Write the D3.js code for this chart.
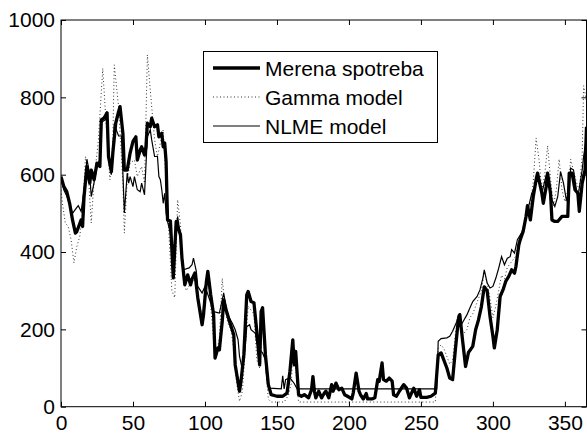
<!DOCTYPE html>
<html><head><meta charset="utf-8">
<script src="https://cdn.jsdelivr.net/npm/d3@7"></script>
<style>html,body{margin:0;padding:0;background:#fff;}svg{display:block;font-family:"Liberation Sans",Arial,sans-serif;}</style>
</head><body><svg id="c" width="587" height="435"></svg>
<script>
const xTicks = [0,50,100,150,200,250,300,350];
const yTicks = [0,200,400,600,800,1000];
const seriesNames = ["Merena spotreba","Gamma model","NLME model"];

const measuredDays = [0,2,4,6,8,10,11,14,15,16,18,20,21,23,25,27,28,30,32,33,35,36,38,40,41,43,44,46,48,50,52,53,55,56,58,59,60,62,63,65,67,68,70,71,72,73,74,76,78,80,83,84,86,88,90,91,93,95,98,99,101,102,104,106,107,109,110,112,113,115,117,120,121,124,125,127,129,130,132,134,136,138,139,140,142,144,146,150,154,157,159,161,162,163,165,167,169,172,174,175,176,177,179,181,183,184,186,188,189,191,193,195,197,199,202,203,205,207,208,210,212,213,216,218,220,221,223,224,226,228,230,231,233,235,238,240,242,245,247,249,250,254,257,260,262,264,266,268,270,272,274,276,277,279,281,283,286,288,290,292,294,296,298,300,301,303,305,307,309,311,313,315,316,318,319,321,323,324,326,328,330,331,333,334,335,337,338,340,341,343,345,348,350,352,353,355,357,359,360,362,364,365];
const measuredValues = [595,569,556,526,483,449,453,483,466,543,621,578,612,587,630,621,742,747,760,647,608,656,733,763,776,707,612,612,656,686,698,638,664,672,651,672,733,724,746,724,729,698,707,672,682,634,483,480,333,479,444,385,315,341,315,330,346,282,212,238,324,350,289,238,126,152,147,221,276,246,221,186,108,40,65,134,289,298,272,269,195,108,246,256,134,57,31,27,27,35,91,173,108,143,31,27,31,23,44,78,40,23,40,23,36,40,23,57,40,61,44,48,31,27,20,36,87,40,31,20,34,20,20,23,70,66,113,70,66,74,66,31,27,40,57,48,23,48,27,44,24,24,27,35,134,139,120,100,74,70,150,225,238,169,104,140,156,199,225,259,310,300,233,182,152,199,285,302,325,337,354,345,363,419,432,453,492,520,483,543,587,604,569,552,526,569,604,552,483,479,479,492,492,492,604,604,561,552,505,578,612,724];

const gammaDays = [0,1,3,5,7,9,11,13,15,17,19,21,23,26,29,32,34,36,37,40,43,44,46,48,51,53,56,58,60,62,65,67,71,72,74,77,79,81,83,85,87,90,93,95,98,100,102,104,106,108,110,112,114,116,118,120,122,124,126,128,130,132,134,136,138,140,142,144,146,155,158,160,161,163,165,260,262,264,266,268,270,272,274,276,278,280,282,284,286,288,290,292,294,296,298,300,302,304,306,308,310,312,314,316,318,320,322,324,326,328,330,332,334,336,338,340,342,344,346,348,350,352,354,356,358,360,362,363,365];
const gammaValues = [560,526,475,466,432,372,414,440,501,647,600,475,587,690,875,690,587,690,884,776,578,449,587,630,638,595,621,578,910,819,690,647,716,647,518,300,282,535,470,330,300,320,330,290,230,300,340,260,170,140,175,332,250,215,200,150,60,14,40,150,260,250,240,121,100,220,110,20,12,12,30,60,150,100,12,12,150,160,150,130,110,120,190,230,200,190,200,230,240,260,280,300,350,320,280,230,260,300,340,330,360,370,380,390,430,450,480,510,520,580,695,640,560,600,675,590,520,560,640,560,530,560,640,610,580,560,650,830,790];

const nlmeDays = [0,2,4,6,8,10,12,14,16,18,20,21,23,25,27,28,30,32,33,35,37,40,42,43,44,46,47,48,50,51,53,55,56,58,60,62,63,65,67,68,69,70,71,72,73,74,77,78,81,83,85,89,91,92,94,95,98,100,102,104,106,108,110,113,115,117,119,121,123,124,126,128,129,131,132,135,136,138,140,142,143,145,153,154,155,156,159,162,164,261,262,264,268,270,272,275,276,278,280,282,284,286,289,291,293,294,296,298,300,302,304,306,308,310,312,313,315,317,320,322,324,327,329,331,332,334,337,338,341,343,345,347,349,351,353,354,356,358,359,362,363,365];
const nlmeValues = [590,560,545,525,500,510,520,505,560,640,600,543,580,620,640,735,740,745,640,600,730,700,700,604,501,604,578,595,569,595,561,556,578,548,698,716,690,647,647,595,587,561,526,552,500,479,432,380,492,440,354,359,367,384,350,311,294,311,290,268,246,244,242,294,251,229,216,199,173,130,96,156,207,212,199,190,165,147,139,121,70,48,46,80,46,70,75,60,46,46,169,176,178,182,195,221,238,212,225,238,255,272,285,302,332,354,320,307,311,332,358,388,367,384,388,406,397,432,450,470,505,552,569,595,590,552,599,604,535,518,543,608,578,535,552,617,612,561,543,612,647,698];

const W = 587, H = 435;
const m = {left:61, right:586.5, top:20, bottom:406.7};
const x = d3.scaleLinear().domain([0,365]).range([m.left, m.right]);
const y = d3.scaleLinear().domain([0,1000]).range([m.bottom, m.top]);
const svg = d3.select("#c");

svg.append("defs").append("clipPath").attr("id","clip")
  .append("rect").attr("x",m.left).attr("y",m.top).attr("width",m.right-m.left).attr("height",m.bottom-m.top);

const plot = svg.append("g").attr("clip-path","url(#clip)");
const line = d3.line().x(d=>x(d[0])).y(d=>y(d[1]));
const zip = (a,b)=>a.map((d,i)=>[d,b[i]]);

plot.append("path").datum(zip(gammaDays,gammaValues)).attr("d",line)
  .attr("fill","none").attr("stroke","#333").attr("stroke-width",1).attr("stroke-dasharray","1,2.5");
plot.append("path").datum(zip(nlmeDays,nlmeValues)).attr("d",line)
  .attr("fill","none").attr("stroke","#000").attr("stroke-width",1.2);
plot.append("path").datum(zip(measuredDays,measuredValues)).attr("d",line)
  .attr("fill","none").attr("stroke","#000").attr("stroke-width",3.3).attr("stroke-linejoin","round");

// axes
const fs = 21;
const fmt = d3.format("d");
const axB = d3.axisBottom(x).tickValues(xTicks).tickSizeInner(-5).tickSizeOuter(0).tickPadding(8).tickFormat(fmt);
const gB = svg.append("g").attr("transform",`translate(0,${m.bottom})`).call(axB);
const axT = d3.axisTop(x).tickValues(xTicks).tickSizeInner(-5).tickSizeOuter(0).tickFormat("");
const gT = svg.append("g").attr("transform",`translate(0,${m.top})`).call(axT);
const axL = d3.axisLeft(y).tickValues(yTicks).tickSizeInner(-5).tickSizeOuter(0).tickPadding(6).tickFormat(fmt);
const gL = svg.append("g").attr("transform",`translate(${m.left},0)`).call(axL);
const axR = d3.axisRight(y).tickValues(yTicks).tickSizeInner(-5).tickSizeOuter(0).tickFormat("");
const gR = svg.append("g").attr("transform",`translate(${m.right},0)`).call(axR);
[gB,gT,gL,gR].forEach(g=>{
  g.select(".domain").remove();
  g.selectAll("line").attr("stroke","#000").attr("stroke-width",1);
  g.selectAll("text").attr("font-size",fs).attr("font-family","'Liberation Sans',Arial,sans-serif").attr("fill","#000");
});
gB.selectAll("text").attr("dy","0.71em");
svg.append("rect").attr("x",m.left).attr("y",m.top).attr("width",m.right-m.left).attr("height",m.bottom-m.top)
  .attr("fill","none").attr("stroke","#000").attr("stroke-width",1);

// legend
const lg = svg.append("g");
lg.append("rect").attr("x",203.5).attr("y",51.5).attr("width",234).attr("height",91)
  .attr("fill","#fff").attr("stroke","#000").attr("stroke-width",1);
const legStyles = [
  {w:3.3, dash:null, c:"#000"},
  {w:1, dash:"1,2.5", c:"#333"},
  {w:1.2, dash:null, c:"#000"}
];
const legY = [68, 97, 126];
seriesNames.forEach((n,i)=>{
  const l = lg.append("line").attr("x1",213).attr("x2",260).attr("y1",legY[i]).attr("y2",legY[i])
    .attr("stroke",legStyles[i].c).attr("stroke-width",legStyles[i].w);
  if (legStyles[i].dash) l.attr("stroke-dasharray",legStyles[i].dash);
  lg.append("text").attr("x",265).attr("y",legY[i]).attr("dy","0.36em").attr("font-size",fs).text(n);
});
</script></body></html>
